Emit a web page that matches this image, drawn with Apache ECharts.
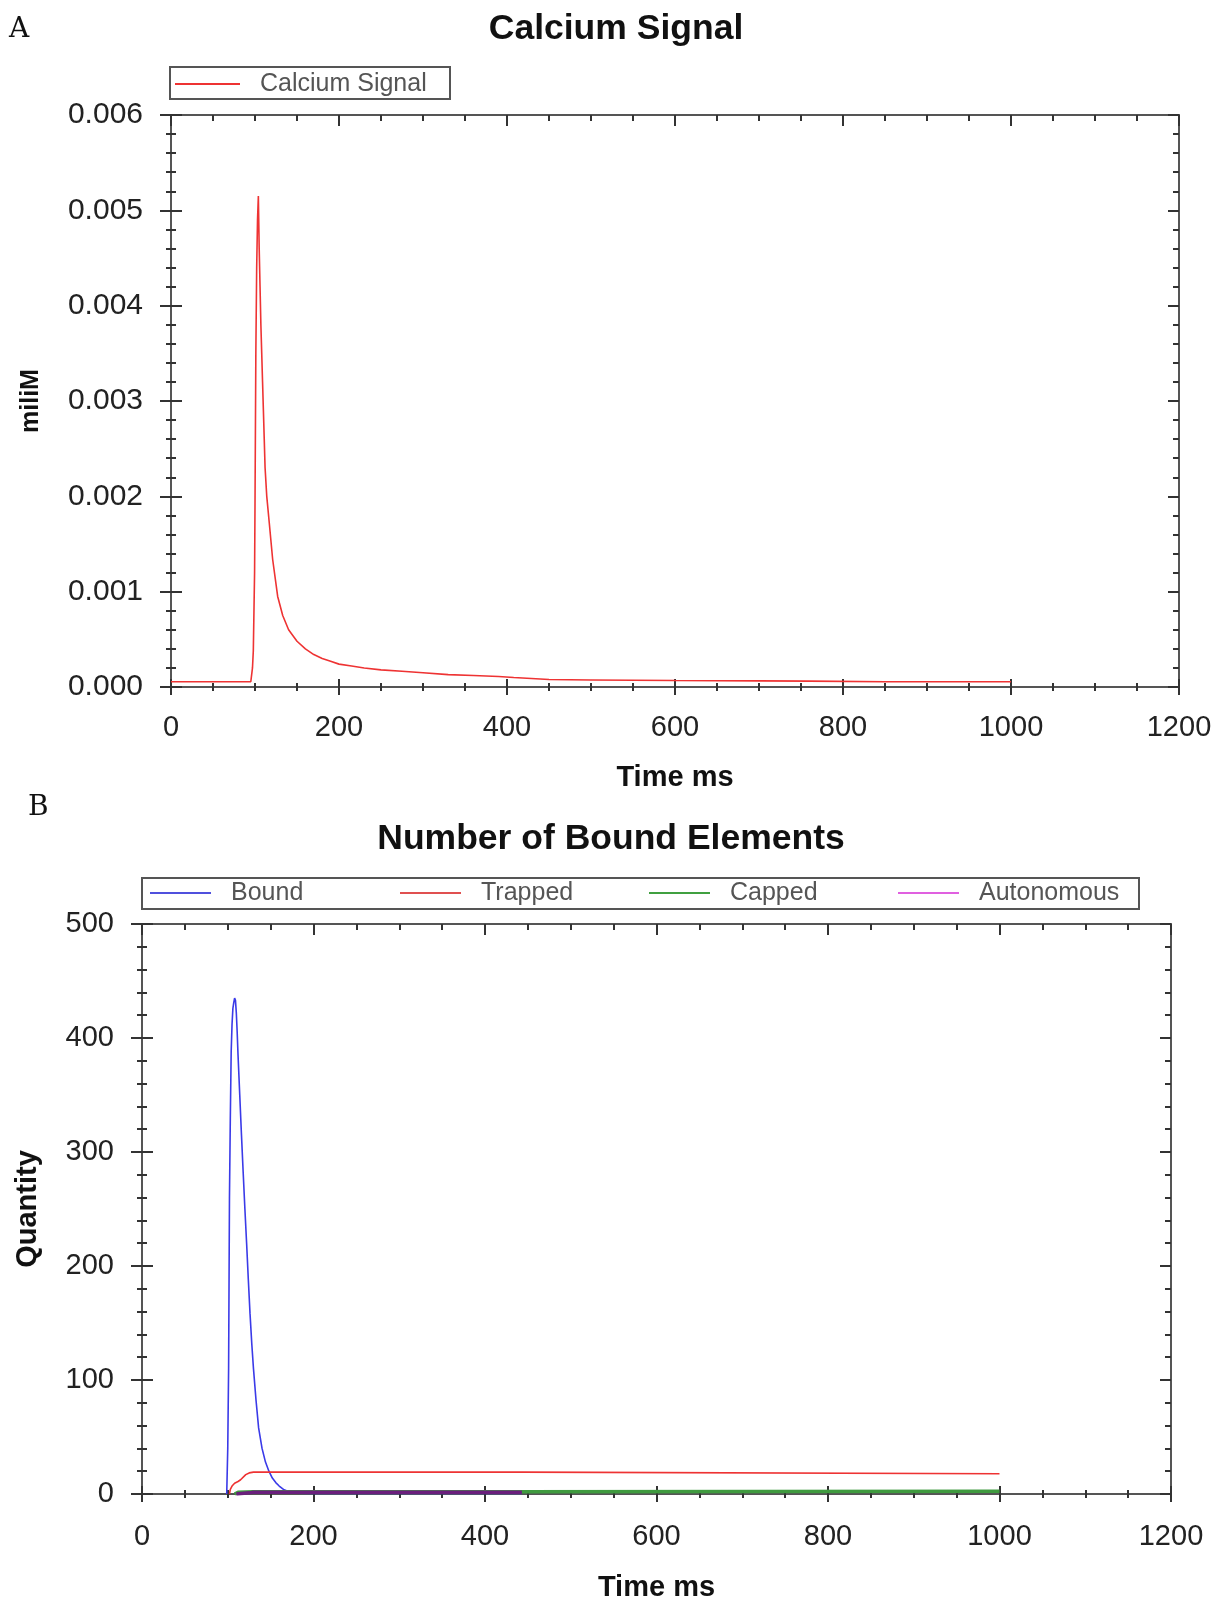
<!DOCTYPE html>
<html>
<head>
<meta charset="utf-8">
<script src="https://cdn.jsdelivr.net/npm/echarts@6/dist/echarts.min.js"></script>
</head>
<body style="margin:0;background:#fff">
<div id="container" style="width:1217px;height:1600px"></div>
<script type="text/javascript">
// panel A - calcium signal (miliM) against time (ms)
var caTime   = [0, 95, 97, 98, 99.5, 100, 101, 102, 103, 104, 105, 106, 107, 108, 109, 110, 111, 112, 114, 117, 121, 127, 133, 140, 150, 160, 170, 180, 190, 200, 215, 230, 250, 275, 300, 330, 360, 390, 408, 410, 450, 500, 600, 700, 760, 762, 850, 1000];
var caSignal = [0.000055, 0.000055, 0.0002, 0.00038, 0.0012, 0.0019, 0.0035, 0.0044, 0.0049, 0.00515, 0.0046, 0.0042, 0.0038, 0.0035, 0.0032, 0.0029, 0.0026, 0.0023, 0.002, 0.00172, 0.00134, 0.00095, 0.00075, 0.0006, 0.00048, 0.0004, 0.00034, 0.0003, 0.00027, 0.00024, 0.00022, 0.0002, 0.00018, 0.000165, 0.00015, 0.00013, 0.00012, 0.00011, 0.0001, 0.00008, 0.000078, 0.000074, 0.000068, 0.000064, 0.000062, 0.000056, 0.000055, 0.000055];

// panel B - number of bound elements
var boundTime = [98.8, 100, 101, 102, 103, 104, 105, 106, 107, 108, 109, 110, 111, 112, 114, 116, 118, 120, 122, 124, 126, 128, 130, 133, 136, 140, 144, 148, 152, 156, 160, 165, 170, 175, 180, 200, 300, 443];
var boundQty  = [0, 40, 110, 260, 330, 388, 412, 426, 431, 435, 433, 422, 405, 385, 350, 315, 282, 250, 220, 188, 158, 132, 110, 82, 58, 40, 28, 20, 14, 10, 7, 4, 2.5, 1.5, 0.8, 0.5, 0.5, 0.5];
var trappedTime = [102, 103, 105, 108, 112, 115, 117, 121, 125, 130, 443, 445, 1000];
var trappedQty  = [0, 4, 7, 9.5, 11, 12.5, 14, 17, 18.5, 19.2, 19.2, 17.8, 17.8];
var cappedTime = [108, 112, 130, 443, 445, 1000];
var cappedQty  = [0, 1.5, 2, 2, 2.5, 2.5];
var autoTime = [110, 125, 130, 443];
var autoQty  = [0, 1, 1.5, 1.5];

var xMax = 1200, xStep = 200;
var caMax = 0.006, caStep = 0.001;
var qtyMax = 500, qtyStep = 100;

function zip(a, b) {
    var out = [];
    for (var i = 0; i < a.length; i++) out.push([a[i], b[i]]);
    return out;
}

var font = 'Liberation Sans, Arial, sans-serif';
var lineGray = '#555';
var tickDark = '#333';

function tick(len) {
    return { length: len, lineStyle: { color: tickDark, width: 2 } };
}

// three x axes per grid: labelled bottom (ticks out), bottom ticks in, top border
function xAxes(g, nameGap, labelMargin, labelSize) {
    var base = { gridIndex: g, type: 'value', min: 0, max: xMax, interval: xStep, splitLine: { show: false } };
    return [
        Object.assign({}, base, {
            position: 'bottom',
            axisLine: { onZero: false, lineStyle: { color: lineGray, width: 2 } },
            axisTick: tick(8),
            minorTick: Object.assign({ show: true, splitNumber: 4 }, tick(4)),
            axisLabel: { margin: labelMargin, fontSize: labelSize, color: '#222', fontFamily: font,
                formatter: function (v) { return String(v); } },
            name: 'Time ms', nameLocation: 'middle', nameGap: nameGap,
            nameTextStyle: { fontSize: 29, fontWeight: 'bold', color: '#111', fontFamily: font, lineHeight: 29 }
        }),
        Object.assign({}, base, {
            position: 'bottom',
            axisLine: { show: false, onZero: false },
            axisTick: Object.assign({ inside: true }, tick(8)),
            minorTick: Object.assign({ show: true, splitNumber: 4 }, tick(4)),
            axisLabel: { show: false }
        }),
        Object.assign({}, base, {
            position: 'top',
            axisLine: { onZero: false, lineStyle: { color: lineGray, width: 2 } },
            axisTick: Object.assign({ inside: true }, tick(11)),
            minorTick: Object.assign({ show: true, splitNumber: 4 }, tick(6)),
            axisLabel: { show: false }
        })
    ];
}

function yAxes(g, max, step, fmt, labelSize, name, nameSize, nameGap) {
    var base = { gridIndex: g, type: 'value', min: 0, max: max, interval: step, splitLine: { show: false } };
    return [
        Object.assign({}, base, {
            position: 'left',
            axisLine: { onZero: false, lineStyle: { color: lineGray, width: 2 } },
            axisTick: tick(11),
            minorTick: Object.assign({ show: true, splitNumber: 5 }, tick(5)),
            axisLabel: { margin: 28, fontSize: labelSize, color: '#222', fontFamily: font, formatter: fmt },
            name: name, nameLocation: 'middle', nameGap: nameGap,
            nameTextStyle: { fontSize: nameSize, fontWeight: 'bold', color: '#111', fontFamily: font, lineHeight: nameSize }
        }),
        Object.assign({}, base, {
            position: 'left',
            axisLine: { show: false, onZero: false },
            axisTick: Object.assign({ inside: true }, tick(11)),
            minorTick: Object.assign({ show: true, splitNumber: 5 }, tick(5)),
            axisLabel: { show: false }
        }),
        Object.assign({}, base, {
            position: 'right',
            axisLine: { onZero: false, lineStyle: { color: lineGray, width: 2 } },
            axisTick: Object.assign({ inside: true }, tick(11)),
            minorTick: Object.assign({ show: true, splitNumber: 5 }, tick(6)),
            axisLabel: { show: false }
        })
    ];
}

function lineSeries(name, x, y, idx, color, width, legendColor) {
    return {
        name: name, type: 'line', xAxisIndex: idx, yAxisIndex: idx,
        data: zip(x, y), symbol: 'none', showSymbol: false,
        itemStyle: { color: legendColor || color },
        lineStyle: { color: color, width: width },
        z: 5
    };
}

var titleStyle = { fontSize: 35.5, fontWeight: 'bold', color: '#111', fontFamily: font, lineHeight: 40 };
var letterStyle = { fontSize: 28, fontWeight: 'normal', color: '#111', fontFamily: 'DejaVu Serif, serif', lineHeight: 30 };
var legendText = { fontSize: 25, color: '#555', fontFamily: font, lineHeight: 26, padding: [0, 0, 0, 15] };

// thin rect icon = plain line sample like the original legend
function legendAt(name, left, top, iconW) {
    return {
        data: [name], left: left, top: top, padding: 0, icon: 'rect', itemWidth: iconW, itemHeight: 2,
        textStyle: legendText, selectedMode: false
    };
}

var dom = document.getElementById('container');
var myChart = echarts.init(dom);

var option = {
    animation: false,
    backgroundColor: '#fff',
    title: [
        { text: 'Calcium Signal', left: 616, top: 9, textAlign: 'center', padding: 0, textStyle: titleStyle },
        { text: 'Number of Bound Elements', left: 611, top: 819, textAlign: 'center', padding: 0, textStyle: titleStyle },
        { text: 'A', left: 9, top: 15, padding: 0, textStyle: letterStyle },
        { text: 'B', left: 28, top: 793, padding: 0, textStyle: letterStyle }
    ],
    legend: [
        legendAt('Calcium Signal', 175, 71, 65),
        legendAt('Bound', 150, 880, 61),
        legendAt('Trapped', 400, 880, 61),
        legendAt('Capped', 649, 880, 61),
        legendAt('Autonomous', 898, 880, 61)
    ],
    graphic: [
        { type: 'rect', shape: { x: 170, y: 67, width: 280, height: 32 }, style: { fill: 'transparent', stroke: lineGray, lineWidth: 2 } },
        { type: 'rect', shape: { x: 142, y: 878, width: 997, height: 31 }, style: { fill: 'transparent', stroke: lineGray, lineWidth: 2 } }
    ],
    grid: [
        { left: 171, top: 115, width: 1008, height: 572, outerBoundsMode: 'none' },
        { left: 142, top: 924, width: 1029, height: 570, outerBoundsMode: 'none' }
    ],
    xAxis: xAxes(0, 76, 26, 29).concat(xAxes(1, 79, 28, 29)),
    yAxis: yAxes(0, caMax, caStep, function (v) { return v.toFixed(3); }, 30, 'miliM', 25, 127)
        .concat(yAxes(1, qtyMax, qtyStep, null, 29, 'Quantity', 29, 100)),
    series: [
        lineSeries('Calcium Signal', caTime, caSignal, 0, '#ee3333', 1.6),
        lineSeries('Bound', boundTime, boundQty, 3, '#3a3ae8', 1.6, '#5050dd'),
        lineSeries('Trapped', trappedTime, trappedQty, 3, '#ee3333', 1.6, '#e05050'),
        lineSeries('Capped', cappedTime, cappedQty, 3, '#3f9a3f', 3.5, '#40a040'),
        lineSeries('Autonomous', autoTime, autoQty, 3, '#6a1f7c', 3.5, '#e060e0')
    ]
};

myChart.setOption(option);
</script>
</body>
</html>
